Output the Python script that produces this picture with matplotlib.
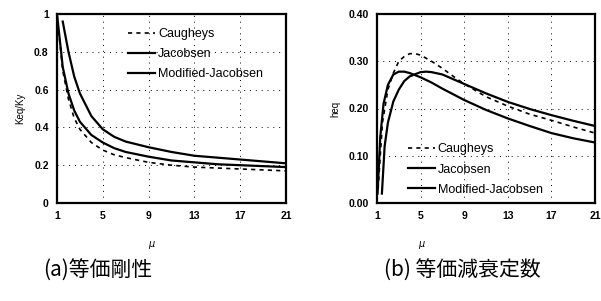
import numpy as np
import matplotlib.pyplot as plt

plt.rcParams['font.family'] = ['Liberation Sans', 'DejaVu Sans']

# (a) equivalent stiffness Keq/Ky vs ductility mu
mu_k_jac = [1, 1.5, 2, 2.5, 3, 4, 5, 6, 7, 9, 11, 13, 15, 17, 19, 21]
k_jac = [1.0, 0.72, 0.58, 0.49, 0.43, 0.36, 0.32, 0.29, 0.27, 0.245, 0.225, 0.215, 0.205, 0.20, 0.195, 0.19]
mu_k_mod = [1.5, 2, 2.5, 3, 4, 5, 6, 7, 9, 11, 13, 15, 17, 19, 21]
k_mod = [0.96, 0.80, 0.67, 0.58, 0.46, 0.39, 0.35, 0.325, 0.295, 0.27, 0.25, 0.24, 0.23, 0.22, 0.21]
mu_k_cau = [1, 1.5, 2, 2.5, 3, 4, 5, 6, 7, 9, 11, 13, 15, 17, 19, 21]
k_cau = [1.0, 0.70, 0.55, 0.45, 0.39, 0.32, 0.28, 0.255, 0.24, 0.215, 0.20, 0.19, 0.185, 0.18, 0.175, 0.17]

# (b) equivalent damping heq vs mu
mu_h_cau = [1.1, 1.5, 2, 2.5, 3, 3.5, 4, 4.5, 5, 6, 7, 8, 9, 11, 13, 15, 17, 19, 21]
h_cau = [0.03, 0.17, 0.24, 0.275, 0.30, 0.31, 0.316, 0.316, 0.313, 0.30, 0.285, 0.268, 0.252, 0.225, 0.205, 0.188, 0.175, 0.161, 0.148]
mu_h_jac = [1.05, 1.3, 1.6, 2, 2.5, 3, 3.5, 4, 5, 6, 7, 9, 11, 13, 15, 17, 19, 21]
h_jac = [0.02, 0.14, 0.21, 0.25, 0.272, 0.278, 0.278, 0.275, 0.266, 0.255, 0.242, 0.218, 0.197, 0.179, 0.163, 0.148, 0.137, 0.128]
mu_h_mod = [1.45, 1.7, 2, 2.5, 3, 3.5, 4, 5, 5.5, 6, 7, 9, 11, 13, 15, 17, 19, 21]
h_mod = [0.02, 0.12, 0.17, 0.215, 0.24, 0.258, 0.268, 0.277, 0.278, 0.277, 0.272, 0.252, 0.232, 0.214, 0.199, 0.186, 0.174, 0.163]

x_ticks = [1, 5, 9, 13, 17, 21]
labels = ['Caugheys', 'Jacobsen', 'Modified-Jacobsen']

fig = plt.figure(figsize=(6.01, 3.01), dpi=100)
ax1 = fig.add_axes([57/601, 1-203/301, 229/601, 189/301])
ax2 = fig.add_axes([377/601, 1-203/301, 218/601, 189/301])

dash = (0, (2.5, 2.5))
ax1.plot(mu_k_cau, k_cau, color='black', lw=1.2, linestyle=dash, label=labels[0])
ax1.plot(mu_k_jac, k_jac, color='black', lw=1.6, label=labels[1])
ax1.plot(mu_k_mod, k_mod, color='black', lw=1.6, label=labels[2])

ax2.plot(mu_h_cau, h_cau, color='black', lw=1.2, linestyle=dash, label=labels[0])
ax2.plot(mu_h_jac, h_jac, color='black', lw=1.6, label=labels[1])
ax2.plot(mu_h_mod, h_mod, color='black', lw=1.6, label=labels[2])

ax1.set_ylim(0, 1)
ax1.set_yticks([0, 0.2, 0.4, 0.6, 0.8, 1])
ax1.set_yticklabels(['0', '0.2', '0.4', '0.6', '0.8', '1'])
ax2.set_ylim(0, 0.4)
ax2.set_yticks([0, 0.1, 0.2, 0.3, 0.4])
ax2.set_yticklabels(['0.00', '0.10', '0.20', '0.30', '0.40'])

for ax in (ax1, ax2):
    ax.set_xlim(1, 21)
    ax.set_xticks(x_ticks)
    ax.grid(True, color='black', linestyle=(0, (1, 5)), linewidth=0.7)
    ax.tick_params(length=0, pad=6, labelsize=7.5)
    for t in ax.get_xticklabels() + ax.get_yticklabels():
        t.set_fontweight('bold')
    for s in ax.spines.values():
        s.set_linewidth(1.6)

ax1.set_ylabel('Keq/Ky', fontsize=7, labelpad=6)
ax2.set_ylabel('heq', fontsize=7, labelpad=6)

leg_kw = dict(frameon=False, fontsize=9, handlelength=2.2, handletextpad=0.2,
              labelspacing=0.65, borderpad=0, borderaxespad=0, loc='upper left')
ax1.legend(bbox_to_anchor=(0.31, 0.925), **leg_kw)
ax2.legend(bbox_to_anchor=(0.14, 0.315), **leg_kw)

fig.text(152/601, 1-245/301, r'$\mu$', fontsize=7, ha='center', va='center')
fig.text(422/601, 1-245/301, r'$\mu$', fontsize=7, ha='center', va='center')

cjk = ['Noto Sans CJK JP', 'DejaVu Sans']
fig.text(98/601, 1-271/301, '(a)等価剛性', fontsize=15, ha='center', va='center', family=cjk)
fig.text(462/601, 1-271/301, '(b) 等価減衰定数', fontsize=15, ha='center', va='center', family=cjk)

fig.savefig('out.png', dpi=100)
